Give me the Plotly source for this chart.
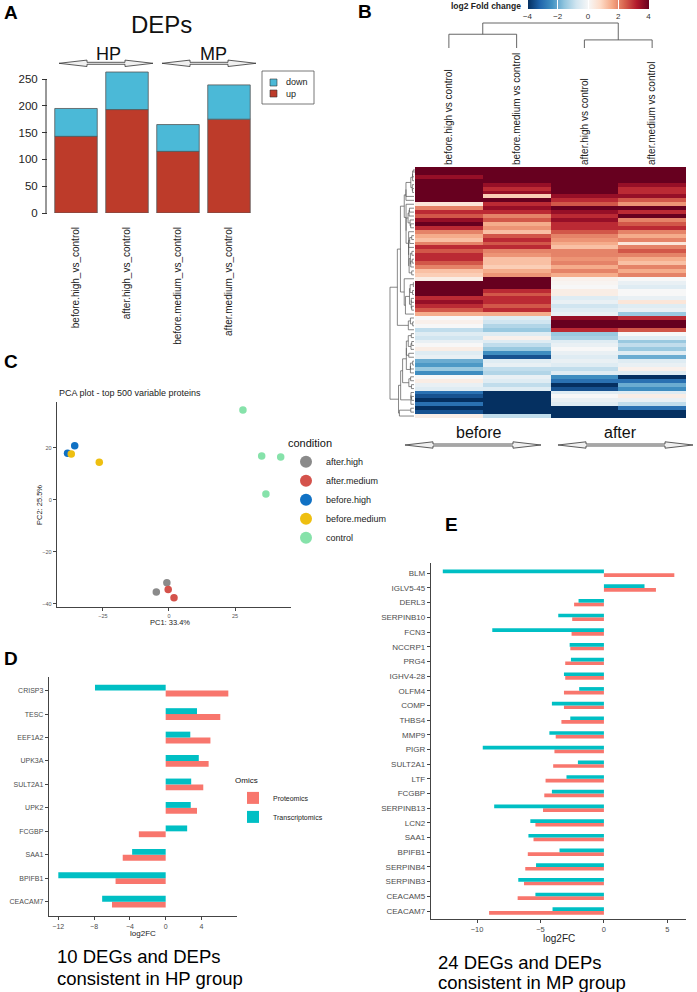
import numpy as np
import plotly.graph_objects as go

W, H = 697, 992
FONT = "Liberation Sans, Arial, Helvetica, sans-serif"


def px(x):
    return x / W


def py(y):
    return 1 - y / H


# ---------------- Panel A data ----------------
a_categories = ["before.high_vs_control", "after.high_vs_control",
                "before.medium_vs_control", "after.medium_vs_control"]
a_up = [143, 193, 115, 175]
a_down = [52, 70, 50, 64]
a_yticks = [0, 50, 100, 150, 200, 250]

# ---------------- Panel B data (log2 fold change, rows top -> bottom) ----------------
b_columns = ["before.high vs control", "before.medium vs control",
             "after.high vs control", "after.medium vs control"]
b_before_high = [4, 4, 3.5, 4, 4, 4, 4, 4, 4, 0.5, 2, 3, 2.5, 3.5, 4, 3,
                 2, 1.5, 1.2, 2, 3, 2.5, 3, 3, 2.5, 2, 1.2, 1.0, 0.3, 4, 4, 4,
                 4, 3, 3.5, 3, 2.5, 1.5, 0, 0.2, 0, -1, -0.5, -0.8, -0.3, 0, 0.3, -0.5,
                 -0.3, -2, -2.3, -1.5, -2.5, 0, 0.3, -0.3, -0.5, -3, -3.5, -4, -3, -4, -3.5, 0.3]
b_before_medium = [4, 4, 4, 4, 3.5, 3, 3.5, 1, 4, 3, 3.5, 3, 2, 2.5, 1.5, 1.8,
                   1.2, 2.5, 3, 2.5, 3, 2, 1.8, 1.2, 1.2, 1.0, 1.5, 1.8, 4, 4, 4, 3,
                   2.5, 3, 3, 2.5, 3, 1.5, -0.5, -0.8, -1.2, -1.5, -0.5, 0.2, -0.5, -1, -1.5, -2.5,
                   -3.5, -0.5, -0.3, -1, -1.2, -0.3, -0.5, -1, -0.5, -4, -4, -4, -4, -4, -4, -1]
b_after_high = [4, 4, 4, 4, 4, 4, 4, 3.5, 3, 2.5, 4, 3.5, 3, 3.5, 3, 3,
                2.5, 2, 1.8, 1.5, 1.2, 2, 2, 1.8, 2, 1.5, 2, 1.5, 0.2, 0.1, 0, 0.3,
                0.3, -0.5, -0.3, -0.8, -0.5, -0.3, 3.5, 4, 4, 3, -1.5, -1.3, -0.5, -0.3, 0, -0.3,
                -0.5, -0.3, -0.5, -1, -0.5, -2.5, -3, -4, -3.5, -0.5, 0, -0.3, -0.5, -4, -4, -4]
b_after_medium = [4, 4, 4, 4, 3.5, 3, 3, 3.5, 2.5, 1.8, 4, 3, 4, 2, 2.5, 3,
                  2, 1.5, 2, 0.5, 2, 2.5, 2, 1.5, 1.2, 2, 1.5, 2, 0, -0.3, -0.5, 0,
                  0, -0.3, 0.5, -0.5, -0.3, -1.5, 3, 4, 4, 2.5, 0, -0.5, -1.5, -1, -1.5, -0.5,
                  -2, -0.5, -0.3, 0.2, -0.5, -4, -3, -2, -2.5, -0.5, 0.3, -0.3, -1, -3, -4, -4]
b_colorbar_ticks = [-4, -2, 0, 2, 4]

# ---------------- Panel C data (PCA) ----------------
c_conditions = ["after.high", "after.medium", "before.high", "before.medium", "control"]
c_pc1 = {
    "after.high": [-0.8, -4.8],
    "after.medium": [-0.3, 1.9],
    "before.high": [-35.7, -38.4],
    "before.medium": [-37.0, -26.4],
    "control": [28.0, 35.1, 42.3, 36.7],
}
c_pc2 = {
    "after.high": [-31.9, -35.4],
    "after.medium": [-34.5, -37.6],
    "before.high": [20.9, 18.0],
    "before.medium": [17.7, 14.5],
    "control": [34.6, 16.9, 16.5, 2.3],
}
c_colors = ["#8a8a8a", "#d4524b", "#1071c4", "#eebf10", "#86e2aa"]
c_xticks = [-25, 0, 25]
c_yticks = [-40, -20, 0, 20]

# ---------------- Panel D data ----------------
d_genes = ["CRISP3", "TESC", "EEF1A2", "UPK3A", "SULT2A1", "UPK2", "FCGBP", "SAA1", "BPIFB1", "CEACAM7"]
d_proteomics = [7.0, 6.1, 5.0, 4.8, 4.2, 3.5, -3.0, -4.8, -5.6, -6.0]
d_transcriptomics = [-7.9, 3.5, 2.75, 3.7, 2.85, 2.8, 2.4, -3.75, -12.0, -7.1]
d_xticks = [-12, -8, -4, 0, 4]

# ---------------- Panel E data ----------------
e_genes = ["BLM", "IGLV5-45", "DERL3", "SERPINB10", "FCN3", "NCCRP1", "PRG4", "IGHV4-28",
           "OLFM4", "COMP", "THBS4", "MMP9", "PIGR", "SULT2A1", "LTF", "FCGBP",
           "SERPINB13", "LCN2", "SAA1", "BPIFB1", "SERPINB4", "SERPINB3", "CEACAM5", "CEACAM7"]
e_proteomics = [5.55, 4.1, -2.35, -2.5, -2.55, -2.65, -3.05, -3.05,
                -3.15, -3.15, -3.35, -3.8, -3.9, -4.0, -4.6, -4.7,
                -4.8, -5.4, -5.55, -6.0, -6.2, -6.3, -6.8, -9.05]
e_transcriptomics = [-12.7, 3.2, -2.0, -3.6, -8.8, -2.7, -2.6, -3.15,
                     -1.95, -4.1, -2.65, -4.3, -9.55, -2.05, -2.95, -4.1,
                     -8.65, -5.8, -5.95, -3.5, -5.35, -6.75, -5.4, -4.05]
e_xticks = [-10, -5, 0, 5]

PROT_COLOR = "#f8766d"
TRANS_COLOR = "#00bfc4"
UP_COLOR = "#bd3b2a"
DOWN_COLOR = "#4bb9d7"

fig = go.Figure()

# ======== Panel A: stacked bars ========
fig.add_trace(go.Bar(x=a_categories, y=a_up, base=0, width=0.833,
                     marker=dict(color=UP_COLOR, line=dict(color="#555555", width=0.8)),
                     name="up", showlegend=False, xaxis="x", yaxis="y"))
fig.add_trace(go.Bar(x=a_categories, y=a_down, base=a_up, width=0.833,
                     marker=dict(color=DOWN_COLOR, line=dict(color="#555555", width=0.8)),
                     name="down", showlegend=False, xaxis="x", yaxis="y"))

# ======== Panel B: heatmap ========
b_z = [list(r) for r in zip(b_before_high, b_before_medium, b_after_high, b_after_medium)]
n_rows = len(b_z)
rdbu = ["#053061", "#2166ac", "#4393c3", "#92c5de", "#d1e5f0", "#f7f7f7",
        "#fddbc7", "#f4a582", "#d6604d", "#b2182b", "#67001f"]
colorscale = [[i / (len(rdbu) - 1), c] for i, c in enumerate(rdbu)]
fig.add_trace(go.Heatmap(
    z=b_z, x=list(range(4)), y=list(range(n_rows)), zmin=-4, zmax=4,
    colorscale=colorscale, xaxis="x2", yaxis="y2", hoverinfo="skip",
    colorbar=dict(orientation="h", x=px(588), xanchor="center", y=py(0), yanchor="top",
                  len=px(121), lenmode="fraction", thickness=9, thicknessmode="pixels",
                  tickvals=b_colorbar_ticks, ticks="inside", tickcolor="white", ticklen=9,
                  tickfont=dict(size=8, color="#333333", family=FONT),
                  outlinewidth=0, xpad=0, ypad=0)))

# ======== Panel C: PCA scatter ========
for cond, col in zip(c_conditions, c_colors):
    fig.add_trace(go.Scatter(x=c_pc1[cond], y=c_pc2[cond], mode="markers", name=cond,
                             marker=dict(color=col, size=7.5), xaxis="x3", yaxis="y3",
                             legend="legend2"))

# ======== Panel D: grouped bars ========
fig.add_trace(go.Bar(y=d_genes, x=d_proteomics, orientation="h", name="Proteomics",
                     width=0.25, offset=-0.25, marker=dict(color=PROT_COLOR, line=dict(width=0)),
                     xaxis="x4", yaxis="y4", legend="legend3"))
fig.add_trace(go.Bar(y=d_genes, x=d_transcriptomics, orientation="h", name="Transcriptomics",
                     width=0.25, offset=0.0, marker=dict(color=TRANS_COLOR, line=dict(width=0)),
                     xaxis="x4", yaxis="y4", legend="legend3"))

# ======== Panel E: grouped bars ========
fig.add_trace(go.Bar(y=e_genes, x=e_proteomics, orientation="h", name="Proteomics",
                     width=0.25, offset=-0.25, marker=dict(color=PROT_COLOR, line=dict(width=0)),
                     xaxis="x5", yaxis="y5", showlegend=False))
fig.add_trace(go.Bar(y=e_genes, x=e_transcriptomics, orientation="h", name="Transcriptomics",
                     width=0.25, offset=0.0, marker=dict(color=TRANS_COLOR, line=dict(width=0)),
                     xaxis="x5", yaxis="y5", showlegend=False))


# ---------------- dendrograms (average linkage over adjacent clusters) ----------------
def adjacent_tree(vectors):
    vecs = [np.asarray(v, float) for v in vectors]
    clusters = [dict(pos=float(i), h=0.0, members=[i]) for i in range(len(vecs))]
    segs = []

    def avg_dist(a, b):
        return float(np.mean([np.linalg.norm(vecs[i] - vecs[j]) for i in a for j in b]))

    while len(clusters) > 1:
        d = [avg_dist(clusters[k]["members"], clusters[k + 1]["members"]) for k in range(len(clusters) - 1)]
        k = int(np.argmin(d))
        a, b = clusters[k], clusters[k + 1]
        h = max(d[k], a["h"], b["h"])
        segs.append((a["h"], a["pos"], h, a["pos"]))
        segs.append((b["h"], b["pos"], h, b["pos"]))
        segs.append((h, a["pos"], h, b["pos"]))
        clusters[k:k + 2] = [dict(pos=(a["pos"] + b["pos"]) / 2, h=h, members=a["members"] + b["members"])]
    return segs, clusters[0]["h"]


row_segs, row_hmax = adjacent_tree(b_z)
path = ""
for h0, p0, h1, p1 in row_segs:
    x0 = px(414 - h0 / row_hmax * 24)
    x1 = px(414 - h1 / row_hmax * 24)
    path += f"M{x0:.5f},{p0:.3f}L{x1:.5f},{p1:.3f}"
shapes = [dict(type="path", path=path, xref="paper", yref="y2",
               line=dict(color="#555555", width=0.7))]

col_segs, col_hmax = adjacent_tree([b_before_high, b_before_medium, b_after_high, b_after_medium])
path = ""
for h0, p0, h1, p1 in col_segs:
    y0 = py(48 - h0 / col_hmax * 25)
    y1 = py(48 - h1 / col_hmax * 25)
    path += f"M{p0:.3f},{y0:.5f}L{p1:.3f},{y1:.5f}"
shapes.append(dict(type="path", path=path, xref="x2", yref="paper",
                   line=dict(color="#555555", width=0.9)))


# ---------------- double arrows ----------------
def double_arrow(x0, x1, y, L=28, h=3.2, s=1.0):
    pts = [(x0, y), (x0 + L, y - h), (x0 + L, y - s), (x1 - L, y - s), (x1 - L, y - h),
           (x1, y), (x1 - L, y + h), (x1 - L, y + s), (x0 + L, y + s), (x0 + L, y + h)]
    p = "M" + "L".join(f"{px(a):.5f},{py(b):.5f}" for a, b in pts) + "Z"
    return dict(type="path", path=p, xref="paper", yref="paper",
                fillcolor="#f0f0f0", line=dict(color="#333333", width=0.8))


shapes += [double_arrow(59, 153, 63.3), double_arrow(162, 256, 63.3),
           double_arrow(405, 541, 445), double_arrow(558, 693, 445)]

# Panel A axis line (0..250) and legend box
shapes.append(dict(type="line", xref="paper", yref="y", x0=px(46), x1=px(46), y0=0, y1=250,
                   line=dict(color="#333333", width=1)))
shapes.append(dict(type="rect", xref="paper", yref="paper", x0=px(262), x1=px(314), y0=py(71), y1=py(104),
                   line=dict(color="#555555", width=0.8), fillcolor="white"))
shapes.append(dict(type="rect", xref="paper", yref="paper", x0=px(270), x1=px(277), y0=py(79), y1=py(86),
                   line=dict(color="#333333", width=0.6), fillcolor=DOWN_COLOR))
shapes.append(dict(type="rect", xref="paper", yref="paper", x0=px(270), x1=px(277), y0=py(90), y1=py(97),
                   line=dict(color="#333333", width=0.6), fillcolor=UP_COLOR))


# ---------------- annotations ----------------
def txt(x, y, s, size, xanchor="left", color="#111111", bold=False, angle=0, yanchor="middle"):
    if bold:
        s = f"<b>{s}</b>"
    return dict(x=px(x), y=py(y), xref="paper", yref="paper", text=s, showarrow=False,
                xanchor=xanchor, yanchor=yanchor, textangle=angle,
                font=dict(size=size, color=color, family=FONT))


annotations = [
    txt(2, 13, "A", 19, bold=True, color="black"),
    txt(356, 11, "B", 19, bold=True, color="black"),
    txt(2, 361, "C", 19, bold=True, color="black"),
    txt(2, 658, "D", 19, bold=True, color="black"),
    txt(443, 524, "E", 19, bold=True, color="black"),
    txt(161, 25, "DEPs", 24, xanchor="center"),
    txt(109, 54, "HP", 18, xanchor="center"),
    txt(213, 54, "MP", 18, xanchor="center"),
    txt(284, 82.5, "down", 9, color="#222222"),
    txt(284, 94, "up", 9, color="#222222"),
    txt(523, 6, "log2 Fold change", 8.5, xanchor="right", bold=True, color="#222222"),
    txt(478, 432, "before", 16, xanchor="center"),
    txt(620, 432, "after", 16, xanchor="center"),
    txt(57, 393, "PCA plot - top 500 variable proteins", 9, color="#222222"),
    txt(170, 622, "PC1: 33.4%", 7.5, xanchor="center", color="#222222"),
    txt(40, 505, "PC2: 25.5%", 7.5, xanchor="center", color="#222222", angle=-90),
    txt(143, 933, "log2FC", 8, xanchor="center", color="#222222"),
    txt(559, 938, "log2FC", 10, xanchor="center", color="#222222"),
    txt(55, 956, "10 DEGs and DEPs", 18.5, color="black"),
    txt(55, 978, "consistent in HP group", 18.5, color="black"),
    txt(436, 962, "24 DEGs and DEPs", 18.5, color="black"),
    txt(436, 982, "consistent in MP group", 18.5, color="black"),
]

axis_common = dict(showgrid=False, zeroline=False, fixedrange=True)
classic = dict(showline=True, linecolor="#444444", linewidth=1.2, ticks="outside",
               ticklen=3, tickcolor="#444444", tickwidth=1)

fig.update_layout(
    width=W, height=H, margin=dict(l=0, r=0, t=0, b=0, autoexpand=False),
    paper_bgcolor="white", plot_bgcolor="white",
    font=dict(family=FONT, color="#333333"),
    barmode="overlay",
    shapes=shapes, annotations=annotations,
    # Panel A
    xaxis=dict(domain=[px(48), px(255)], range=[-0.549, 3.51], anchor="y", type="category",
               categoryorder="array", categoryarray=a_categories,
               tickangle=-90, ticks="", ticklabelstandoff=11, showline=False,
               tickfont=dict(size=10, color="#222222"), **axis_common),
    yaxis=dict(domain=[py(213), py(213 - 265 * 0.536)], range=[0, 265], anchor="x",
               tickvals=a_yticks, ticks="outside", ticklen=5, tickcolor="#333333",
               showline=False, tickfont=dict(size=11.5, color="#222222"),
               ticklabelstandoff=2, **axis_common),
    # Panel B
    xaxis2=dict(domain=[px(415), px(686)], range=[-0.5, 3.5], anchor="y2", side="top",
                tickvals=list(range(4)), ticktext=b_columns, tickangle=-90, ticks="",
                ticklabelstandoff=1, tickfont=dict(size=10, color="#222222"),
                showline=False, **axis_common),
    yaxis2=dict(domain=[py(418), py(167)], range=[n_rows - 0.5, -0.5], anchor="x2",
                visible=False, **axis_common),
    # Panel C
    xaxis3=dict(domain=[px(57), px(291)], range=[-42.4, 46.2], anchor="y3",
                tickvals=c_xticks, tickfont=dict(size=5.5, color="#555555"), **classic, **axis_common),
    yaxis3=dict(domain=[py(607), py(402)], range=[-41.2, 37.7], anchor="x3",
                tickvals=c_yticks, tickfont=dict(size=5.5, color="#555555"), **classic, **axis_common),
    # Panel D
    xaxis4=dict(domain=[px(49), px(237)], range=[-13.04, 7.97], anchor="y4",
                tickvals=d_xticks, tickfont=dict(size=7, color="#4d4d4d"), **classic, **axis_common),
    yaxis4=dict(domain=[py(916), py(677)], range=[-0.61, 9.58], anchor="x4", type="category",
                categoryorder="array", categoryarray=d_genes[::-1],
                tickfont=dict(size=7, color="#4d4d4d"), **classic, **axis_common),
    # Panel E
    xaxis5=dict(domain=[px(431), px(686)], range=[-13.63, 6.47], anchor="y5",
                tickvals=e_xticks, tickfont=dict(size=7.5, color="#4d4d4d"), **classic, **axis_common),
    yaxis5=dict(domain=[py(919), py(563)], range=[-0.545, 23.7], anchor="x5", type="category",
                categoryorder="array", categoryarray=e_genes[::-1],
                tickfont=dict(size=8, color="#4d4d4d"), **classic, **axis_common),
    legend2=dict(x=px(286), y=py(433), xanchor="left", yanchor="top", bgcolor="rgba(0,0,0,0)",
                 title=dict(text="condition", font=dict(size=11, color="#111111")),
                 font=dict(size=9, color="#222222"), itemsizing="constant"),
    legend3=dict(x=px(233), y=py(773), xanchor="left", yanchor="top", bgcolor="rgba(0,0,0,0)",
                 title=dict(text="Omics", font=dict(size=8, color="#111111")),
                 font=dict(size=7, color="#222222")),
)

fig.write_html("out.html", config={"displayModeBar": False, "staticPlot": True},
               post_script="document.body.style.margin='0';document.body.style.padding='0';")
